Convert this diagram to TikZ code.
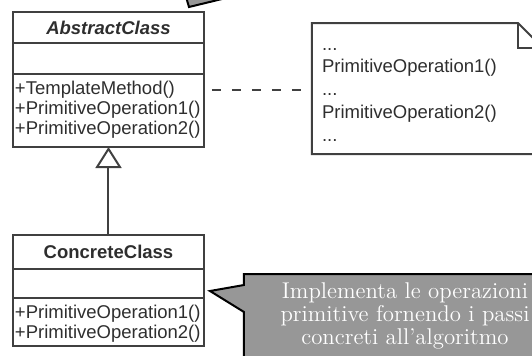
\documentclass[tikz,border=0pt]{standalone}
\usepackage{fontspec}
\usetikzlibrary{positioning,arrows.meta}
\newfontfamily\umlfont{Liberation Sans}
\definecolor{trait}{HTML}{404040}
\definecolor{texte}{HTML}{2E2E2E}
\definecolor{bulle}{HTML}{979797}

\begin{document}
\begin{tikzpicture}[x=0.5pt,y=-0.5pt]
\tikzstyle{lien}=[dash pattern=on 4.75pt off 5.25pt,line width=1pt,draw=trait]
\tikzset{classe/.style={draw=trait,line width=1pt,outer sep=0pt,minimum width=95.5pt,minimum height=#1,
inner xsep=1pt,inner ysep=0pt,text=texte,font=\umlfont\fontsize{9.25}{10}\selectfont},
classe/.default={15.5pt},
methodes/.style={classe=#1,align=left,text width=93.5pt,inner ysep=2.7pt,text height=7.3pt},
heritage/.style={-{Triangle[open,length=10.5pt,width=13pt]},line width=1pt,draw=trait},
nota/.style={minimum width=115.5pt,minimum height=65.5pt,outer sep=0pt,inner xsep=5pt,inner ysep=0pt,
align=left,text width=105.5pt,text height=6.1pt,text depth=44.6pt,text=texte,
font=\umlfont\fontsize{9.25}{11.4}\selectfont},
bulle/.style={fill=bulle,draw=black,line width=1pt,line join=miter}}
\useasboundingbox (0,0) rectangle (532,355);
\clip (0,0) rectangle (532,355);

% bulle du haut (coupee)
\draw[bulle] (184,-10) -- (189,7) -- (259,-10) -- cycle;

% classe abstraite
\node[classe,anchor=north] (abstract) at (108.5,12) {\textbf{\textit{AbstractClass}}};
\node[classe,below=0pt of abstract] (absattr) {};
\node[methodes=36.5pt,text depth=23.8pt,below=0pt of absattr] (absops) {+TemplateMethod()\\+PrimitiveOperation1()\\+PrimitiveOperation2()};

% classe concrete
\node[classe=17pt,anchor=north] (concrete) at (108.5,235) {\textbf{ConcreteClass}};
\node[classe=14.5pt,below=0pt of concrete] (concattr) {};
\node[methodes=24pt,text depth=11.3pt,below=0pt of concattr] (concops) {+PrimitiveOperation1()\\+PrimitiveOperation2()};

\draw[heritage] (concrete) -- (absops);

% note
\node[nota,anchor=north west] (nota) at (312,23) {...\\PrimitiveOperation1()\\...\\PrimitiveOperation2()\\...};
\draw[draw=trait,line width=1pt] (nota.north west) -- ([xshift=-12.5pt]nota.north east)
  -- ([yshift=-12.5pt]nota.north east) -- (nota.south east) -- (nota.south west) -- cycle;
\draw[draw=trait,line width=1pt] ([xshift=-12.5pt]nota.north east) |- ([yshift=-12.5pt]nota.north east);
\draw[lien] ([xshift=4pt,yshift=-8pt]absops.north east) -- ([yshift=-8pt]absops.north east -| nota.west);

% bulle du bas
\coordinate (pointe) at (210,291);
\draw[bulle] (244,274) -- (580,274) -- (580,380) -- (244,380) -- (244,312) -- (pointe) -- (244,285) -- cycle;
\node[text=white,align=center,font=\fontsize{11.4}{11.5}\selectfont] (commento) at (405,316)
  {Implementa le operazioni\\primitive fornendo i passi\\concreti all'algoritmo};
\end{tikzpicture}
\end{document}
